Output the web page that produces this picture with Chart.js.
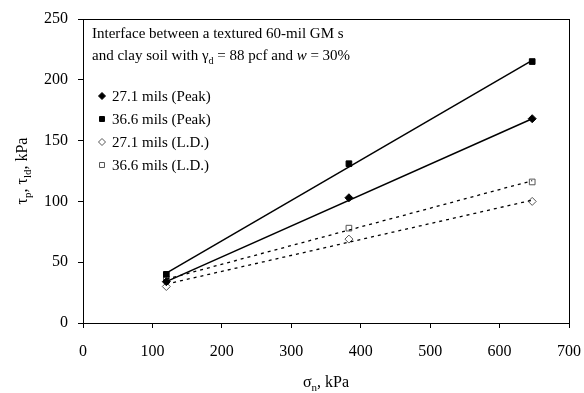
<!DOCTYPE html>
<html>
<head>
<meta charset="utf-8">
<script src="https://cdn.jsdelivr.net/npm/chart.js@4.4.1/dist/chart.umd.min.js"></script>
<style>
  html, body { margin: 0; padding: 0; background: #fff; }
  #wrap { width: 584px; height: 393px; }
</style>
</head>
<body>
<div id="wrap"><canvas id="shearChart"></canvas></div>
<script>
// normal stress, kPa
const sigmaN = [120, 383, 647];

// measured shear strengths, kPa
const peak271 = [34, 103, 168];
const peak366 = [40, 131, 215];
const ld271 = [30, 69, 100];
const ld366 = [36, 78, 116];

// trend line ends
const trendX = [120, 647];
const trendPeak271 = [34, 168];
const trendPeak366 = [41, 216];
const trendLd271 = [32, 101];
const trendLd366 = [36, 117];

const xTicks = [0, 100, 200, 300, 400, 500, 600, 700];
const yTicks = [0, 50, 100, 150, 200, 250];

const legendItems = [
    { label: '27.1 mils (Peak)', style: 'rectRot', fill: '#000', stroke: '#000', r: 3.5 },
    { label: '36.6 mils (Peak)', style: 'rect', fill: '#000', stroke: '#000', r: 3.5 },
    { label: '27.1 mils (L.D.)', style: 'rectRot', fill: '#fff', stroke: '#555', r: 3.5 },
    { label: '36.6 mils (L.D.)', style: 'rect', fill: '#fff', stroke: '#555', r: 3.5 }
];

const serif = "'Liberation Serif', 'Times New Roman', serif";

const pts = (xs, ys) => xs.map((x, i) => ({ x: x, y: ys[i] }));

// draw a run of text pieces, some as subscripts / italics
function drawRich(ctx, parts, x, y, size, align) {
    const widths = parts.map(p => {
        ctx.font = (p.italic ? 'italic ' : '') + (p.sub ? Math.round(size * 0.68) : size) + 'px ' + serif;
        return ctx.measureText(p.t).width;
    });
    const total = widths.reduce((a, b) => a + b, 0);
    let cx = align === 'center' ? x - total / 2 : x;
    parts.forEach((p, i) => {
        ctx.font = (p.italic ? 'italic ' : '') + (p.sub ? Math.round(size * 0.68) : size) + 'px ' + serif;
        ctx.fillText(p.t, cx, p.sub ? y + size * 0.28 : y);
        cx += widths[i];
    });
}

const decorPlugin = {
    id: 'decor',
    afterDraw(chart) {
        const ctx = chart.ctx;
        const a = chart.chartArea;
        ctx.save();
        ctx.strokeStyle = '#000';
        ctx.lineWidth = 1;
        ctx.strokeRect(a.left + 0.5, a.top + 0.5, a.right - a.left, a.bottom - a.top);

        ctx.fillStyle = '#000';
        ctx.textBaseline = 'alphabetic';
        drawRich(ctx, [{ t: 'Interface between a textured 60-mil GM s' }], a.left + 9, a.top + 19, 15, 'left');
        drawRich(ctx, [
            { t: 'and clay soil with γ' }, { t: 'd', sub: true }, { t: ' = 88 pcf and ' },
            { t: 'w', italic: true }, { t: ' = 30%' }
        ], a.left + 9, a.top + 41, 15, 'left');

        legendItems.forEach((it, i) => {
            const ly = a.top + 77 + i * 23;
            ctx.fillStyle = it.fill;
            ctx.strokeStyle = it.stroke;
            Chart.helpers.drawPoint(ctx, { pointStyle: it.style, radius: it.r, borderWidth: 1 }, a.left + 19, ly);
            ctx.fillStyle = '#000';
            drawRich(ctx, [{ t: it.label }], a.left + 29, ly + 5, 15, 'left');
        });

        // axis titles
        drawRich(ctx, [{ t: 'σ' }, { t: 'n', sub: true }, { t: ', kPa' }], (a.left + a.right) / 2, 387, 16, 'center');
        ctx.translate(27, (a.top + a.bottom) / 2);
        ctx.rotate(-Math.PI / 2);
        drawRich(ctx, [
            { t: 'τ' }, { t: 'p', sub: true }, { t: ', τ' }, { t: 'ld', sub: true }, { t: ', kPa' }
        ], 0, 0, 16, 'center');
        ctx.restore();
    }
};

const solid = { borderColor: '#000', borderWidth: 1.5, pointRadius: 0, showLine: true, fill: false };
const dotted = { borderColor: '#000', borderWidth: 1.3, borderDash: [3, 4], pointRadius: 0, showLine: true, fill: false };

new Chart(document.getElementById('shearChart'), {
    type: 'scatter',
    data: {
        datasets: [
            Object.assign({ label: 'fit peak 27.1', data: pts(trendX, trendPeak271) }, solid),
            Object.assign({ label: 'fit peak 36.6', data: pts(trendX, trendPeak366) }, solid),
            Object.assign({ label: 'fit ld 27.1', data: pts(trendX, trendLd271) }, dotted),
            Object.assign({ label: 'fit ld 36.6', data: pts(trendX, trendLd366) }, dotted),
            {
                label: '27.1 mils (Peak)', data: pts(sigmaN, peak271),
                pointStyle: 'rectRot', pointRadius: 4, backgroundColor: '#000', borderColor: '#000'
            },
            {
                label: '36.6 mils (Peak)', data: pts(sigmaN, peak366),
                pointStyle: 'rect', pointRadius: 4, backgroundColor: '#000', borderColor: '#000'
            },
            {
                label: '27.1 mils (L.D.)', data: pts(sigmaN, ld271),
                pointStyle: 'rectRot', pointRadius: 4, backgroundColor: '#fff', borderColor: '#555', borderWidth: 1
            },
            {
                label: '36.6 mils (L.D.)', data: pts(sigmaN, ld366),
                pointStyle: 'rect', pointRadius: 4, backgroundColor: '#fff', borderColor: '#555', borderWidth: 1
            }
        ]
    },
    options: {
        responsive: true,
        maintainAspectRatio: false,
        animation: false,
        layout: { padding: { left: 0, top: 19, right: 15, bottom: 0 } },
        plugins: {
            legend: { display: false },
            tooltip: { enabled: false }
        },
        scales: {
            x: {
                type: 'linear',
                min: 0,
                max: 700,
                afterBuildTicks: axis => { axis.ticks = xTicks.map(v => ({ value: v })); },
                afterFit: axis => { axis.height = 70; axis.paddingLeft = 0; axis.paddingRight = 0; },
                grid: { drawOnChartArea: false, tickLength: 5, color: '#000' },
                border: { color: '#000' },
                ticks: { color: '#000', padding: 14, font: { family: serif, size: 16 } }
            },
            y: {
                type: 'linear',
                min: 0,
                max: 250,
                afterBuildTicks: axis => { axis.ticks = yTicks.map(v => ({ value: v })); },
                afterFit: axis => { axis.width = 83; axis.paddingTop = 0; axis.paddingBottom = 0; },
                grid: { drawOnChartArea: false, tickLength: 5, color: '#000' },
                border: { color: '#000' },
                ticks: { color: '#000', padding: 10, font: { family: serif, size: 16 } }
            }
        }
    },
    plugins: [decorPlugin]
});
</script>
</body>
</html>
